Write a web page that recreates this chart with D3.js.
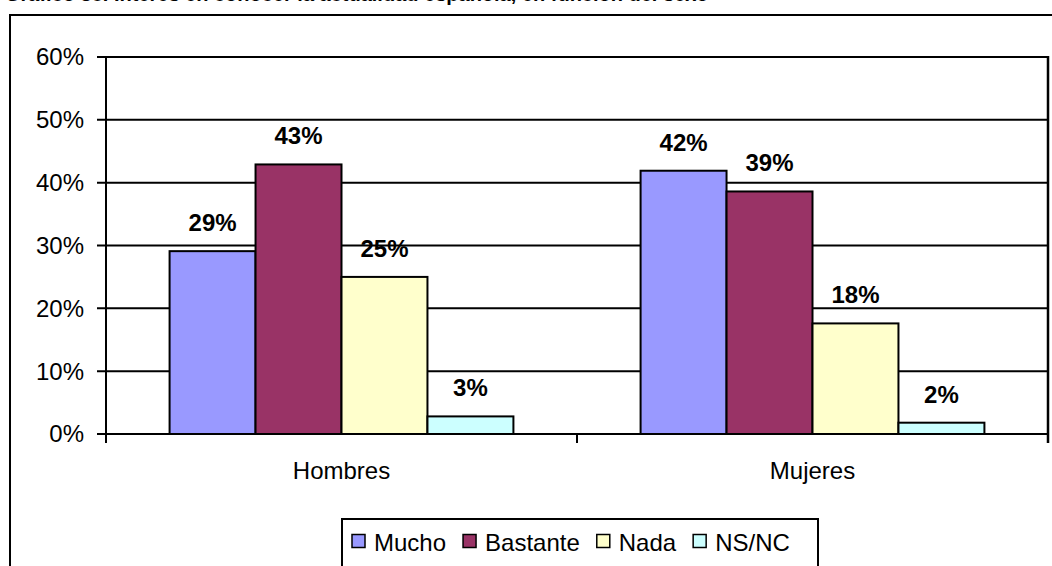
<!DOCTYPE html>
<html>
<head>
<meta charset="utf-8">
<script src="https://cdn.jsdelivr.net/npm/d3@7"></script>
<style>
  html, body { margin: 0; padding: 0; background: #fff; }
  svg { display: block; font-family: "Liberation Sans", Arial, sans-serif; }
</style>
</head>
<body>
<svg id="chart" width="1052" height="566"></svg>
<script>
const title = "Gráfico 38. Interés en conocer la actualidad española, en función del sexo";
const categories = ["Hombres", "Mujeres"];
const series = ["Mucho", "Bastante", "Nada", "NS/NC"];
const colors = ["#9999FF", "#993366", "#FFFFCC", "#CCFFFF"];
const hombres = [0.291, 0.429, 0.250, 0.028];
const mujeres = [0.419, 0.386, 0.176, 0.018];
const yTicks = [0, 0.1, 0.2, 0.3, 0.4, 0.5, 0.6];

(function () {
const values = [hombres, mujeres];
const svg = d3.select("#chart");

// title (mostly clipped at the top, as in the reference)
svg.append("text").attr("x", 5).attr("y", 0.5)
  .attr("font-size", 20).attr("font-weight", "bold").text(title);

// outer frame
svg.append("rect").attr("x", 10).attr("y", 15).attr("width", 1200).attr("height", 700)
  .attr("fill", "none").attr("stroke", "#000").attr("stroke-width", 2);

const pL = 106, pR = 1048, pT = 57, pB = 434;
const y = d3.scaleLinear().domain([0, 0.6]).range([pB, pT]);
const x0 = d3.scaleBand().domain(categories).range([pL, pR]).padding(0);
const step = x0.bandwidth();
const groupW = step * 0.73;
const x1 = d3.scaleBand().domain(series).range([(step - groupW) / 2, (step + groupW) / 2]).padding(0);

// gridlines
svg.append("g").selectAll("line").data(yTicks).join("line")
  .attr("x1", pL - 9).attr("x2", pR)
  .attr("y1", d => y(d)).attr("y2", d => y(d))
  .attr("stroke", "#000").attr("stroke-width", 2);

// y axis labels
svg.append("g").selectAll("text").data(yTicks).join("text")
  .attr("x", 84).attr("y", d => y(d)).attr("dy", "0.35em")
  .attr("text-anchor", "end").attr("font-size", 24)
  .text(d => d3.format(".0%")(d));

// left axis & right border
svg.append("line").attr("x1", pL).attr("x2", pL).attr("y1", pT).attr("y2", pB + 9)
  .attr("stroke", "#000").attr("stroke-width", 2);
svg.append("line").attr("x1", pR).attr("x2", pR).attr("y1", pT - 1).attr("y2", pB + 9)
  .attr("stroke", "#000").attr("stroke-width", 2.5);

// category ticks
const catTicks = [pL, pL + step, pR];
svg.append("g").selectAll("line").data(catTicks).join("line")
  .attr("x1", d => d).attr("x2", d => d).attr("y1", pB).attr("y2", pB + 9)
  .attr("stroke", "#000").attr("stroke-width", 2);

// bars
const groups = svg.append("g").selectAll("g").data(categories).join("g")
  .attr("transform", c => `translate(${x0(c)},0)`);

groups.selectAll("rect").data((c, i) => values[i].map((v, j) => ({ s: series[j], v, j })))
  .join("rect")
  .attr("x", d => x1(d.s)).attr("width", x1.bandwidth())
  .attr("y", d => y(d.v)).attr("height", d => y(0) - y(d.v))
  .attr("fill", d => colors[d.j]).attr("stroke", "#000").attr("stroke-width", 2);

groups.selectAll("text").data((c, i) => values[i].map((v, j) => ({ s: series[j], v, j })))
  .join("text")
  .attr("x", d => x1(d.s) + x1.bandwidth() / 2).attr("y", d => y(d.v) - 20)
  .attr("text-anchor", "middle").attr("font-size", 24).attr("font-weight", "bold")
  .text(d => Math.round(d.v * 100) + "%");

// category labels
svg.append("g").selectAll("text").data(categories).join("text")
  .attr("x", c => x0(c) + step / 2).attr("y", 479)
  .attr("text-anchor", "middle").attr("font-size", 24).text(c => c);

// legend
const legend = svg.append("g");
legend.append("rect").attr("x", 342).attr("y", 519).attr("width", 476).attr("height", 60)
  .attr("fill", "#fff").attr("stroke", "#000").attr("stroke-width", 2);
let lx = 352;
series.forEach((s, i) => {
  legend.append("rect").attr("x", lx).attr("y", 534.5).attr("width", 13).attr("height", 13)
    .attr("fill", colors[i]).attr("stroke", "#000").attr("stroke-width", 1.5);
  const t = legend.append("text").attr("x", lx + 22).attr("y", 551)
    .attr("font-size", 24).text(s);
  lx += 22 + t.node().getComputedTextLength() + 17;
});
})();
</script>
</body>
</html>
